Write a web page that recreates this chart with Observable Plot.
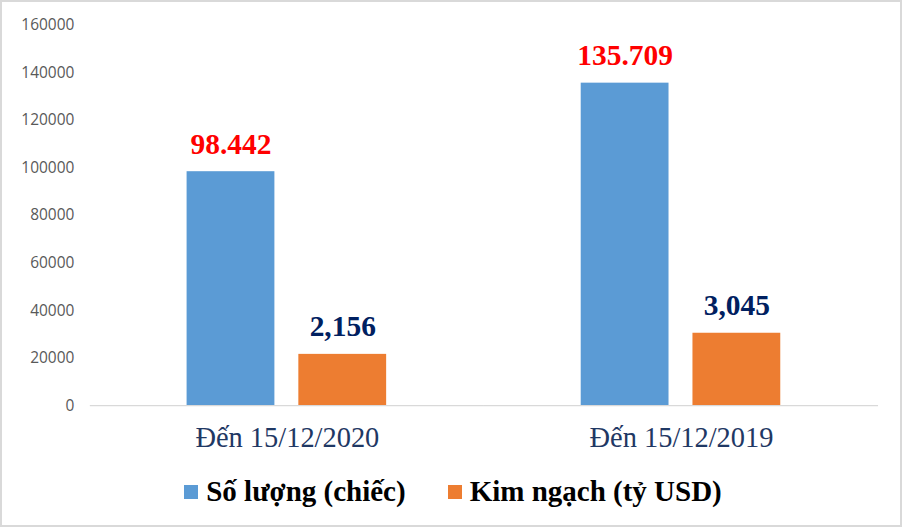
<!DOCTYPE html>
<html>
<head>
<meta charset="utf-8">
<script src="https://cdn.jsdelivr.net/npm/d3@7"></script>
<script src="https://cdn.jsdelivr.net/npm/@observablehq/plot@0.6"></script>
<style>
  html, body { margin: 0; padding: 0; background: #fff; }
  #frame { position: relative; width: 902px; height: 527px; box-sizing: border-box; border: 2px solid #d9d9d9; overflow: hidden; }
  #chart { position: absolute; left: -2px; top: -2px; }
  #legend { position: absolute; left: 0; top: 473px; width: 902px; display: flex; justify-content: center; align-items: center;
            font-family: "Liberation Serif", "Times New Roman", serif; font-weight: bold; font-size: 29px; color: #000; }
  .item { display: flex; align-items: center; margin: 0 21px; }
  .sw { width: 14px; height: 14px; margin-right: 8px; }
</style>
</head>
<body>
<div id="frame">
  <div id="chart"></div>
  <div id="legend"></div>
</div>
<script>
const groups = ["Đến 15/12/2020", "Đến 15/12/2019"];
const seriesNames = ["Số lượng (chiếc)", "Kim ngạch (tỷ USD)"];
const seriesColors = ["#5b9bd5", "#ed7d31"];
const labelColors = ["#ff0000", "#002060"];
const soLuong = [98442, 135709];
const soLuongLabels = ["98.442", "135.709"];
const kimNgach = [21560, 30450]; // drawn on the same axis (×10000)
const kimNgachLabels = ["2,156", "3,045"];
const yTicks = [0, 20000, 40000, 60000, 80000, 100000, 120000, 140000, 160000];

const data = [];
groups.forEach((g, i) => {
  data.push({group: g, series: seriesNames[0], value: soLuong[i], label: soLuongLabels[i], lc: labelColors[0]});
  data.push({group: g, series: seriesNames[1], value: kimNgach[i], label: kimNgachLabels[i], lc: labelColors[1]});
});

const H = 462;
const chart = Plot.plot({
  width: 902,
  height: H,
  marginLeft: 90,
  marginRight: 22,
  marginTop: 25,
  marginBottom: H - 406,
  style: {background: "transparent", overflow: "visible"},
  fx: {domain: groups, padding: 0, label: null, axis: null},
  x: {domain: seriesNames, paddingInner: 0.213, paddingOuter: 0.862, axis: null},
  y: {domain: [0, 160000], label: null, axis: null},
  color: {domain: seriesNames, range: seriesColors},
  marks: [
    Plot.axisY(yTicks, {tickSize: 0, tickPadding: 16, label: null, tickFormat: d => String(d),
                        fill: "#595959", fontSize: 15.5, fontFamily: "Open Sans, sans-serif"}),
    Plot.axisFx({anchor: "bottom", tickSize: 0, tickPadding: 21, label: null,
                 fill: "#1f3864", fontSize: 28.5, fontFamily: "Liberation Serif, Times New Roman, serif"}),
    Plot.barY(data, {fx: "group", x: "series", y: "value", fill: "series"}),
    Plot.text(data, {fx: "group", x: "series", y: "value", text: "label", fill: "lc", lineAnchor: "bottom", dy: -18,
                     fontSize: 29.5, fontWeight: "bold", fontFamily: "Liberation Serif, Times New Roman, serif"}),
    Plot.ruleY([0], {stroke: "#d9d9d9", strokeWidth: 1.2})
  ]
});
document.getElementById("chart").appendChild(chart);

const legend = document.getElementById("legend");
seriesNames.forEach((s, i) => {
  const it = document.createElement("div"); it.className = "item";
  const sw = document.createElement("div"); sw.className = "sw"; sw.style.background = seriesColors[i];
  const t = document.createElement("span"); t.textContent = s;
  it.appendChild(sw); it.appendChild(t); legend.appendChild(it);
});
</script>
</body>
</html>
